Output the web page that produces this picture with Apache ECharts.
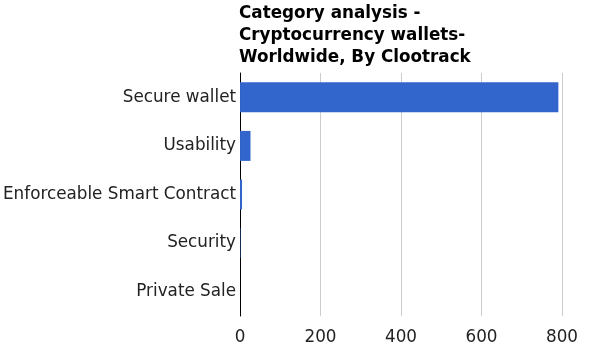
<!DOCTYPE html>
<html>
<head>
<meta charset="utf-8">
<script src="https://cdn.jsdelivr.net/npm/echarts@6/dist/echarts.min.js"></script>
<style>
  html, body { margin: 0; padding: 0; background: #fff; }
  #chart { width: 592px; height: 346px; }
</style>
</head>
<body>
<div id="chart"></div>
<script>
// Mentions per category, top to bottom
const categories = ['Secure wallet', 'Usability', 'Enforceable Smart Contract', 'Security', 'Private Sale'];
const mentions = [791, 26, 5, 1, 0];
const xTicks = [0, 200, 400, 600, 800];

const chart = echarts.init(document.getElementById('chart'), null, { renderer: 'canvas' });

chart.setOption({
  animation: false,
  title: {
    text: 'Category analysis -\nCryptocurrency wallets-\nWorldwide, By Clootrack',
    left: 239,
    top: 3,
    padding: 0,
    textStyle: {
      fontFamily: 'DejaVu Sans',
      fontWeight: 'bold',
      fontSize: 16.8,
      lineHeight: 22,
      color: '#000'
    }
  },
  grid: { left: 240, right: 30, top: 73, bottom: 28, containLabel: false },
  xAxis: {
    type: 'value',
    min: xTicks[0],
    max: xTicks[xTicks.length - 1],
    interval: xTicks[1] - xTicks[0],
    axisLine: { show: false },
    axisTick: { show: false },
    splitLine: { show: true, lineStyle: { color: '#cccccc', width: 1 } },
    axisLabel: {
      color: '#222',
      fontFamily: 'DejaVu Sans',
      fontSize: 16.8,
      margin: 13
    }
  },
  yAxis: {
    type: 'category',
    inverse: true,
    data: categories,
    axisLine: { show: true, lineStyle: { color: '#000', width: 1 } },
    axisTick: { show: false },
    axisLabel: {
      color: '#222',
      fontFamily: 'DejaVu Sans',
      fontSize: 16.8,
      margin: 4,
      verticalAlign: 'middle',
      lineHeight: 21,
      padding: [4, 0, 0, 0]
    }
  },
  series: [{
    type: 'bar',
    data: mentions,
    barWidth: 30,
    itemStyle: { color: '#3366cc' }
  }]
});
</script>
</body>
</html>
